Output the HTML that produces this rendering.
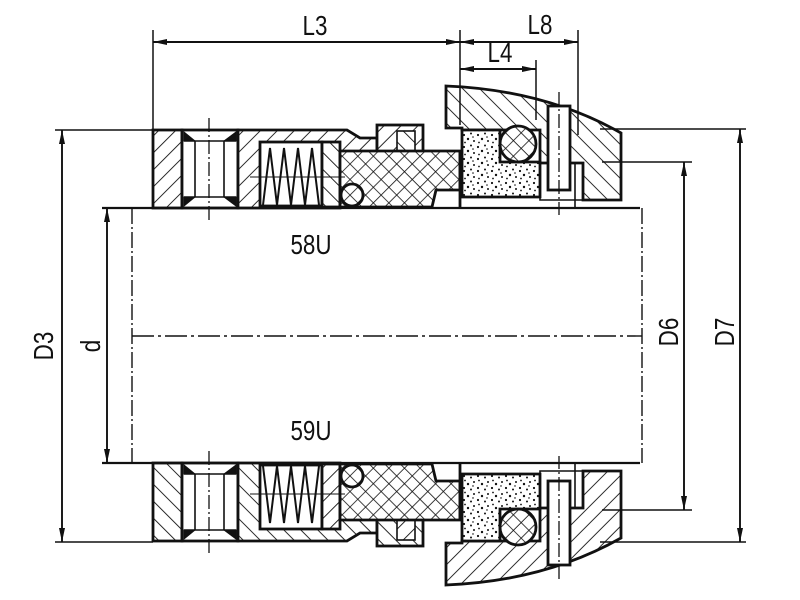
<!DOCTYPE html>
<html><head><meta charset="utf-8"><style>
html,body{margin:0;padding:0;background:#fff;}
svg{display:block;}
text{font-family:"Liberation Sans",sans-serif;fill:#111;}
</style></head><body>
<svg width="800" height="600" viewBox="0 0 800 600" xmlns="http://www.w3.org/2000/svg">
<defs>
<pattern id="h" patternUnits="userSpaceOnUse" width="12" height="12" patternTransform="rotate(45)">
<rect width="12" height="12" fill="#fff"/><line x1="0" y1="0" x2="0" y2="12" stroke="#111" stroke-width="1.8"/></pattern>
<pattern id="h2" patternUnits="userSpaceOnUse" width="12" height="12" patternTransform="rotate(-45)">
<rect width="12" height="12" fill="#fff"/><line x1="0" y1="0" x2="0" y2="12" stroke="#111" stroke-width="1.8"/></pattern>
<pattern id="x" patternUnits="userSpaceOnUse" width="11" height="11" patternTransform="rotate(45)">
<rect width="11" height="11" fill="#fff"/><line x1="0" y1="0" x2="0" y2="11" stroke="#111" stroke-width="1.6"/><line x1="0" y1="0" x2="11" y2="0" stroke="#111" stroke-width="1.6"/></pattern>
<pattern id="d" patternUnits="userSpaceOnUse" width="14" height="12">
<rect width="14" height="12" fill="#fff"/>
<circle cx="2" cy="3" r="1.1" fill="#111"/><circle cx="9" cy="1.5" r="1" fill="#111"/><circle cx="6" cy="7" r="1.2" fill="#111"/><circle cx="12" cy="9" r="1" fill="#111"/><circle cx="3" cy="10.5" r="0.9" fill="#111"/><circle cx="11" cy="5" r="0.8" fill="#111"/></pattern>
<marker id="a" viewBox="0 0 14 6" refX="14" refY="3" markerWidth="14" markerHeight="6" orient="auto-start-reverse" markerUnits="userSpaceOnUse">
<path d="M0,0 L14,3 L0,6 z" fill="#111"/></marker>
<g id="half" stroke="#111" stroke-width="2.8" stroke-linejoin="miter">
<rect x="153" y="130" width="29" height="78" fill="url(#h)"/>
<rect x="182" y="130" width="56" height="78" fill="#fff"/>
<line x1="195" y1="141" x2="195" y2="197" stroke-width="1.6"/>
<line x1="224" y1="141" x2="224" y2="197" stroke-width="1.6"/>
<line x1="184" y1="141" x2="236" y2="141" stroke-width="1.6"/>
<line x1="184" y1="197" x2="236" y2="197" stroke-width="1.6"/>
<path d="M184,132 L195,141 L184,141 Z M236,132 L224,141 L236,141 Z M184,206 L195,197 L184,197 Z M236,206 L224,197 L236,197 Z" fill="#111" stroke-width="1"/>
<path d="M238,130 L347,130 L360,138 L377,138 L377,153 L340,153 L340,208 L238,208 Z" fill="url(#h)"/>
<rect x="260" y="142" width="62" height="64" fill="#fff"/>
<rect x="322" y="142" width="18" height="65" fill="url(#h2)"/>
<rect x="377" y="125" width="46" height="28" fill="url(#h)"/>
<rect x="397" y="131" width="18" height="21" fill="url(#h2)" stroke-width="1.6"/>
<path d="M340,151 L460,151 L460,190 L436,190 L432,207 L340,207 Z" fill="url(#x)"/>
<circle cx="352" cy="195" r="11" fill="url(#x)"/>
<polyline points="263,205 270,148 277,205 284,148 291,205 298,148 305,205 312,148 319,205" fill="none" stroke-width="2"/>
<line x1="250" y1="177" x2="345" y2="177" stroke-width="1"/>
<path d="M446,86 Q545,90 621,133 L621,200 L583,200 L583,163 L540,163 L540,130 L462,130 L462,128 L446,128 Z" fill="url(#h2)"/>
<path d="M462,130 L500,130 L500,162 L540,162 L540,197 L462,197 Z" fill="url(#d)"/>
<circle cx="518" cy="144" r="18" fill="url(#x)"/>
<rect x="548" y="106" width="22" height="84" fill="#fff"/>
<path d="M540,163 L540,200 L583,200" fill="none" stroke-width="1.6"/>
<line x1="575" y1="163" x2="575" y2="208" stroke-width="1.6"/>
<line x1="460" y1="151" x2="460" y2="208"/>
<line x1="209" y1="118" x2="209" y2="220" stroke-width="1.3" stroke-dasharray="14,3,2,3"/>
<line x1="559" y1="92" x2="559" y2="215" stroke-width="1.3" stroke-dasharray="14,3,2,3"/>
</g>
</defs>
<rect width="800" height="600" fill="#fff"/>
<use href="#half"/>
<use href="#half" transform="translate(0,671) scale(1,-1)"/>
<g stroke="#111" fill="none">
<line x1="102" y1="208" x2="640" y2="208" stroke-width="2.2"/>
<line x1="102" y1="463" x2="640" y2="463" stroke-width="2.2"/>
<line x1="132" y1="208" x2="132" y2="463" stroke-width="1.4" stroke-dasharray="16,3,2,3"/>
<line x1="642" y1="208" x2="642" y2="463" stroke-width="1.4" stroke-dasharray="16,3,2,3"/>
<line x1="132" y1="336" x2="642" y2="336" stroke-width="1.4" stroke-dasharray="22,4,3,4"/>
<g stroke-width="1.5">
<line x1="55" y1="130" x2="153" y2="130"/><line x1="55" y1="542" x2="153" y2="542"/>
<line x1="600" y1="129" x2="746" y2="129"/><line x1="600" y1="542" x2="746" y2="542"/>
<line x1="602" y1="162" x2="692" y2="162"/><line x1="602" y1="510" x2="692" y2="510"/>
<line x1="153" y1="30" x2="153" y2="130"/>
<line x1="460" y1="30" x2="460" y2="125"/>
<line x1="578" y1="30" x2="578" y2="135"/>
<line x1="536" y1="60" x2="536" y2="120"/>
</g>
<g stroke-width="1.9">
<line x1="153" y1="42" x2="460" y2="42" marker-start="url(#a)" marker-end="url(#a)"/>
<line x1="460" y1="42" x2="578" y2="42" marker-start="url(#a)" marker-end="url(#a)"/>
<line x1="460" y1="69" x2="536" y2="69" marker-start="url(#a)" marker-end="url(#a)"/>
<line x1="62" y1="130" x2="62" y2="542" marker-start="url(#a)" marker-end="url(#a)"/>
<line x1="107" y1="208" x2="107" y2="463" marker-start="url(#a)" marker-end="url(#a)"/>
<line x1="684" y1="162" x2="684" y2="510" marker-start="url(#a)" marker-end="url(#a)"/>
<line x1="740" y1="129" x2="740" y2="542" marker-start="url(#a)" marker-end="url(#a)"/>
</g>
</g>
<g font-size="28" text-anchor="middle">
<text transform="translate(315,35) scale(0.8,1)">L3</text>
<text transform="translate(540,34) scale(0.8,1)">L8</text>
<text transform="translate(500,62) scale(0.8,1)">L4</text>
<text transform="translate(311,254) scale(0.8,1)">58U</text>
<text transform="translate(311,440) scale(0.8,1)">59U</text>
<text transform="translate(53,346) rotate(-90) scale(0.8,1)">D3</text>
<text transform="translate(100,346) rotate(-90) scale(0.8,1)">d</text>
<text transform="translate(678,332) rotate(-90) scale(0.8,1)">D6</text>
<text transform="translate(734,332) rotate(-90) scale(0.8,1)">D7</text>
</g>
</svg>
</body></html>
